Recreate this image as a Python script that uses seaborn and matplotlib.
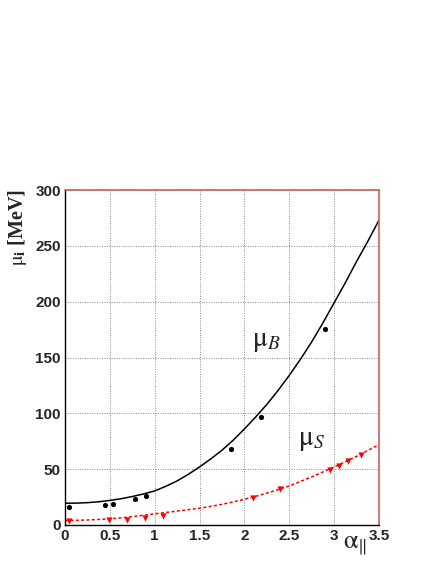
import numpy as np
import pandas as pd
import matplotlib
matplotlib.use("Agg")
import matplotlib.pyplot as plt
import seaborn as sns
from matplotlib.ticker import MultipleLocator

# data points
alpha_b = [0.04, 0.45, 0.54, 0.78, 0.90, 1.85, 2.19, 2.90]
mu_b = [15.8, 17.6, 19.0, 23.0, 26.0, 67.8, 96.4, 175.5]

alpha_s = [0.045, 0.49, 0.69, 0.89, 1.09, 2.09, 2.40, 2.95, 3.05, 3.15, 3.30]
mu_s = [3.5, 4.5, 4.8, 6.5, 8.0, 24.0, 32.0, 49.0, 53.0, 57.0, 63.0]

# fit curves, read at 0.125 steps
curve_x = [0.0, 0.125, 0.25, 0.375, 0.5, 0.625, 0.75, 0.875, 1.0, 1.125, 1.25, 1.375,
           1.5, 1.625, 1.75, 1.875, 2.0, 2.125, 2.25, 2.375, 2.5, 2.625, 2.75, 2.875,
           3.0, 3.125, 3.25, 3.375, 3.5]
curve_b = [19.5, 19.6, 20.0, 20.8, 22.0, 23.5, 25.5, 27.8, 30.5, 34.7, 39.5, 45.4,
           52.0, 59.2, 67.0, 76.0, 86.0, 96.7, 108.0, 120.5, 134.0, 148.5, 164.0, 181.0,
           199.0, 217.0, 236.0, 254.0, 273.0]
curve_s = [4.0, 4.2, 4.5, 5.0, 5.5, 6.4, 7.5, 8.7, 10.0, 11.2, 12.5, 13.7,
           15.0, 16.7, 18.5, 20.7, 23.0, 25.7, 28.5, 31.7, 35.0, 39.0, 43.0, 47.5,
           52.0, 56.7, 61.5, 66.7, 72.0]

sns.set_style("white")
plt.rcParams['font.family'] = ['Liberation Sans', 'DejaVu Sans']
plt.rcParams['mathtext.fontset'] = 'stix'

fig = plt.figure(figsize=(4.36, 5.64), dpi=100)
ax = fig.add_axes([65 / 436, 1 - 525 / 564, 314 / 436, 335 / 564])

fits = pd.DataFrame({"x": curve_x, "b": curve_b, "s": curve_s})
sns.lineplot(data=fits, x="x", y="b", ax=ax, color="black", lw=1.1)
sns.lineplot(data=fits, x="x", y="s", ax=ax, color="red", lw=1.1, linestyle=(0, (2, 1.5)))
sns.scatterplot(x=alpha_b, y=mu_b, ax=ax, color="black", s=14, marker="o", edgecolor="black", linewidth=0)
sns.scatterplot(x=alpha_s, y=mu_s, ax=ax, color="red", s=20, marker="v", edgecolor="red", linewidth=0)

ax.set_xlim(0, 3.5)
ax.set_ylim(0, 300)
ax.xaxis.set_major_locator(MultipleLocator(0.5))
ax.xaxis.set_minor_locator(MultipleLocator(0.1))
ax.yaxis.set_major_locator(MultipleLocator(50))
ax.yaxis.set_minor_locator(MultipleLocator(10))
ax.set_xticks([0, 0.5, 1, 1.5, 2, 2.5, 3, 3.5])
ax.set_xticklabels(["0", "0.5", "1", "1.5", "2", "2.5", "3", "3.5"])
ax.tick_params(which="both", direction="in", top=False, right=False,
               labelsize=11, pad=3, width=0.8)
ax.tick_params(which="major", length=9)
ax.tick_params(which="minor", length=4.5)
for lab in ax.get_xticklabels() + ax.get_yticklabels():
    lab.set_fontweight("bold")
ax.grid(True, which="major", color="#888888", linestyle=(0, (1, 1.5)), lw=0.7)
ax.set_axisbelow(True)

for side in ["top", "right"]:
    ax.spines[side].set_color("#c86060")
    ax.spines[side].set_linewidth(1.2)
for side in ["left", "bottom"]:
    ax.spines[side].set_color("black")
    ax.spines[side].set_linewidth(1.0)

ax.set_xlabel("")
ax.set_ylabel("")
fig.text(0.04, 1 - 189 / 564, r"$\mathrm{\mu}_{\mathbf{i}}$ [MeV]", rotation=90, ha="center", va="top",
         fontsize=14.5, family="Liberation Serif", fontweight="bold")
fig.text(355 / 436, 1 - 546 / 564, r"$\mathrm{\alpha}_{\Vert}$", ha="center", va="center",
         fontsize=19)
ax.text(2.08, 165, r"$\mathrm{\mu}_{B}$", fontsize=20, ha="left", va="center")
ax.text(2.6, 76, r"$\mathrm{\mu}_{S}$", fontsize=20, ha="left", va="center")

fig.savefig("out.png", dpi=100)
